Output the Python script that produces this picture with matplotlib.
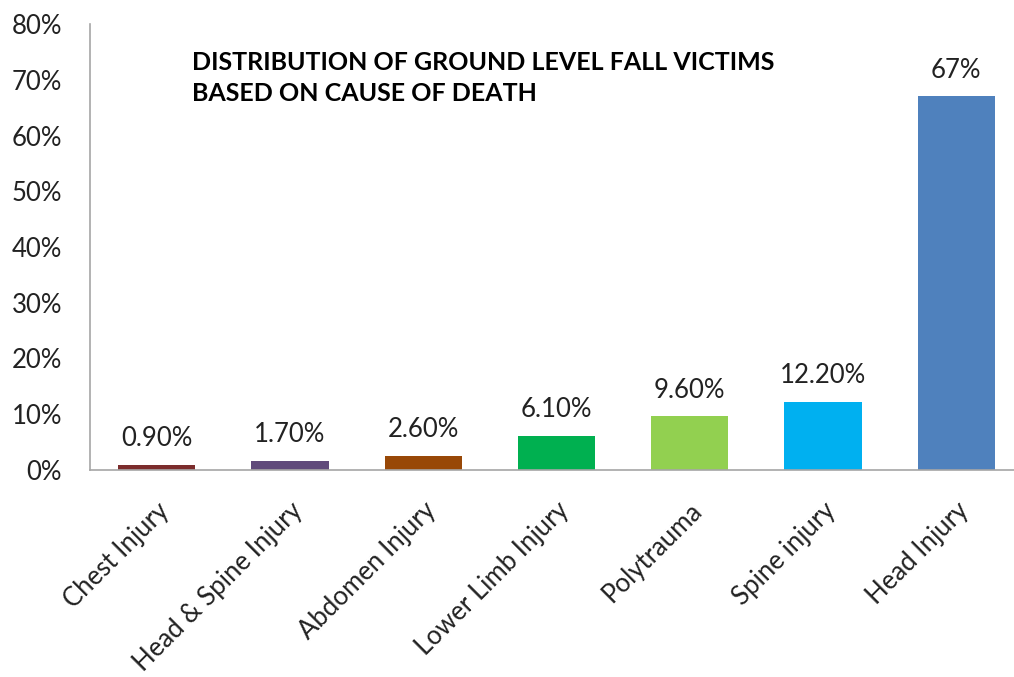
import matplotlib
matplotlib.use("Agg")
import matplotlib.pyplot as plt
from matplotlib.ticker import FuncFormatter

categories = ["Chest Injury", "Head & Spine Injury", "Abdomen Injury", "Lower Limb Injury",
              "Polytrauma", "Spine injury", "Head Injury"]
values = [0.9, 1.7, 2.6, 6.1, 9.6, 12.2, 67]
labels = ["0.90%", "1.70%", "2.60%", "6.10%", "9.60%", "12.20%", "67%"]
colors = ["#7B2C2C", "#604A7B", "#984807", "#00B050", "#92D050", "#00B0F0", "#4F81BD"]
title = "DISTRIBUTION OF GROUND LEVEL FALL VICTIMS\nBASED ON CAUSE OF DEATH"

plt.rcParams['font.family'] = ['Lato', 'DejaVu Sans']

fig = plt.figure(figsize=(10.14, 6.77), dpi=100)
ax = fig.add_axes([90/1014, 1-470/677, 933/1014, (470-24)/677])

x = range(len(categories))
bars = ax.bar(x, values, width=0.58, color=colors)
for b, lab in zip(bars, labels):
    ax.annotate(lab, (b.get_x() + b.get_width()/2, b.get_height()),
                xytext=(0, 10), textcoords='offset points',
                ha='center', va='bottom', fontsize=18.5, color='#222222')

ax.set_xlim(-0.5, len(categories) - 0.5)
ax.set_ylim(0, 80)
ax.set_yticks(range(0, 81, 10))
ax.yaxis.set_major_formatter(FuncFormatter(lambda v, p: f"{int(v)}%"))
ax.set_xticks(list(x))
ax.set_xticklabels(categories, rotation=45, ha='right', rotation_mode='anchor', fontsize=18.5)
ax.tick_params(axis='both', length=0, labelsize=18.5, colors='#222222')
ax.tick_params(axis='y', pad=20)
ax.tick_params(axis='x', pad=20)
for s in ['top', 'right']:
    ax.spines[s].set_visible(False)
for s in ['left', 'bottom']:
    ax.spines[s].set_color('#A6A6A6')
    ax.spines[s].set_linewidth(1.2)

ax.text(102/933, 0.94, title, transform=ax.transAxes, ha='left', va='top',
        fontsize=18, fontweight='bold', color='black', linespacing=1.45)

fig.savefig("out.png", dpi=100)
